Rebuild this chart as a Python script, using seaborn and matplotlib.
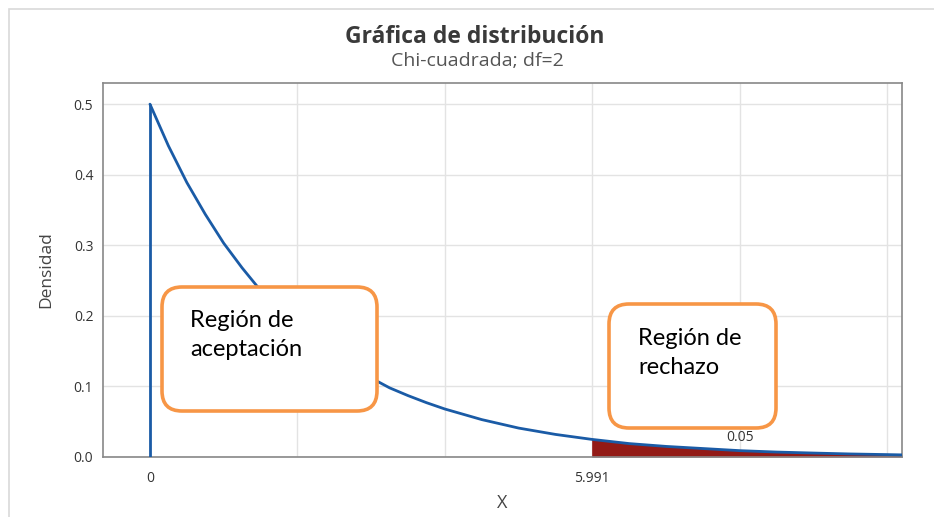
import numpy as np
import pandas as pd
import seaborn as sns
import matplotlib.pyplot as plt
import matplotlib.transforms as mtransforms
from matplotlib.patches import FancyBboxPatch, Rectangle

# values (chi-square, df=2)
x_vals = [0, 0.25, 0.5, 0.75, 1, 1.25, 1.5, 1.75, 2, 2.25, 2.5, 2.75, 3, 3.25,
          3.5, 3.75, 4, 4.5, 5, 5.5, 5.991, 6.5, 7, 7.5, 8, 8.5, 9, 9.5, 10, 10.2]
density = [0.5, 0.441, 0.389, 0.344, 0.303, 0.268, 0.236, 0.208, 0.184, 0.162,
           0.143, 0.126, 0.112, 0.098, 0.087, 0.077, 0.068, 0.053, 0.041, 0.032,
           0.025, 0.019, 0.015, 0.012, 0.009, 0.007, 0.0056, 0.0043, 0.0034, 0.003]
critical = 5.991
alpha_label = "0.05"
grid_x = [0, 2, 4, 6, 8, 10]
y_ticks = [0.0, 0.1, 0.2, 0.3, 0.4, 0.5]
box_texts = ["Región de\naceptación", "Región de\nrechazo"]

df = pd.DataFrame({"x": x_vals, "density": density})
tail = df[df["x"] >= critical]

sns.set_style("white")
plt.rcParams["font.family"] = ["Open Sans", "DejaVu Sans"]

fig = plt.figure(figsize=(9.34, 5.17), dpi=100)
ax = fig.add_axes([103 / 934, 60 / 517, 799 / 934, 374 / 517])

blue = "#1a5ba6"
ax.fill_between(tail["x"], 0, tail["density"], color="#931a16", zorder=2, lw=0)
sns.lineplot(data=df, x="x", y="density", ax=ax, color=blue, lw=2, estimator=None, sort=False, zorder=3)
ax.vlines(x_vals[0], 0, density[0], color=blue, lw=2, zorder=3)

ax.set_xlim(-0.637, 10.2)
ax.set_ylim(0, 0.53)
ax.set_xticks(grid_x, minor=True)
ax.set_xticks([0, critical])
ax.set_xticklabels(["0", "5.991"])
ax.set_yticks(y_ticks)
ax.set_yticklabels([f"{v:.1f}" for v in y_ticks])
ax.grid(True, which="minor", axis="x", color="#e3e3e3", lw=1)
ax.grid(True, which="major", axis="y", color="#e3e3e3", lw=1)
ax.set_axisbelow(True)
ax.tick_params(axis="x", which="both", length=0, pad=10, labelsize=10, labelcolor="#333333")
ax.tick_params(axis="y", length=4, width=1, color="#888888", pad=3, labelsize=10, labelcolor="#333333")
for s in ax.spines.values():
    s.set_color("#888888")
    s.set_linewidth(1.2)
    s.set_visible(True)

ax.set_xlabel("X", fontsize=13, color="#444444", labelpad=6)
ax.set_ylabel("Densidad", fontsize=12.5, color="#444444", labelpad=14)
ax.text(8.01, 0.028, alpha_label, fontsize=10, color="#333333", ha="center", va="center")

fig.text(475 / 934, 1 - 37 / 517, "Gráfica de distribución", ha="center", va="center",
         fontsize=16.5, fontweight="bold", color="#3a3a3a")
fig.text(477 / 934, 1 - 61 / 517, "Chi-cuadrada; df=2", ha="center", va="center",
         fontsize=14, color="#555555")

# outer frame and annotation boxes, in pixels
px = mtransforms.IdentityTransform()
fig.patches.append(Rectangle((9, -10), 1000, 508 + 10, transform=px, fill=False,
                             ec="#d9d9d9", lw=1.2, figure=fig))
boxes = [(162, 106, 215, 124), (609, 89, 167, 124)]
text_pos = [(190, 517 - 310), (638, 517 - 328)]
for (bx, by, bw, bh), (tx, ty), label in zip(boxes, text_pos, box_texts):
    fig.patches.append(FancyBboxPatch((bx, by), bw, bh, boxstyle="round,pad=0,rounding_size=20",
                                      transform=px, fc="white", ec="#f79646", lw=2.6, figure=fig, zorder=5))
    fig.text(tx, ty, label, transform=px, fontsize=17, family=["Lato", "DejaVu Sans"],
             color="black", ha="left", va="top", linespacing=1.45, zorder=6)

fig.savefig("out.png", dpi=100)
